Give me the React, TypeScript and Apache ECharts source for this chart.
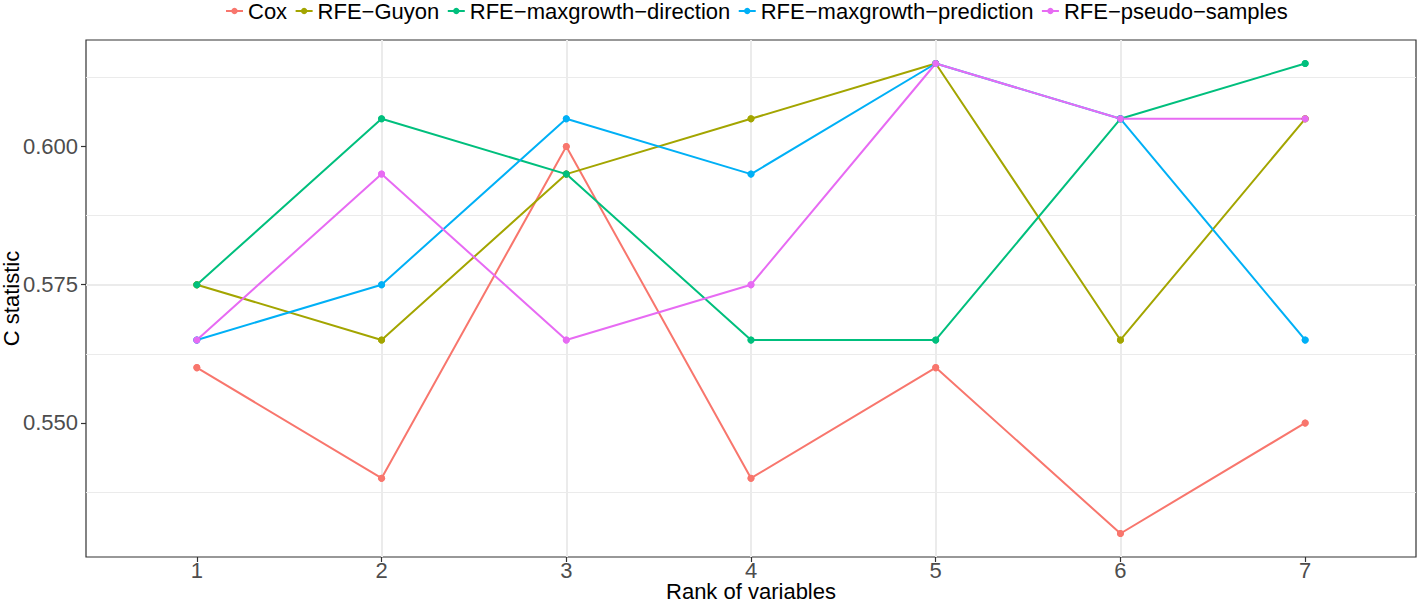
import React, { useEffect, useRef } from 'react';
import * as echarts from 'echarts';

const ranks = [1, 2, 3, 4, 5, 6, 7];
const seriesNames = [
  'Cox',
  'RFE−Guyon',
  'RFE−maxgrowth−direction',
  'RFE−maxgrowth−prediction',
  'RFE−pseudo−samples',
];
const colors = ['#F8766D', '#A3A500', '#00BF7D', '#00B0F6', '#E76BF3'];
const cox = [0.56, 0.54, 0.6, 0.54, 0.56, 0.53, 0.55];
const guyon = [0.575, 0.565, 0.595, 0.605, 0.615, 0.565, 0.605];
const maxDirection = [0.575, 0.605, 0.595, 0.565, 0.565, 0.605, 0.615];
const maxPrediction = [0.565, 0.575, 0.605, 0.595, 0.615, 0.605, 0.565];
const pseudoSamples = [0.565, 0.595, 0.565, 0.575, 0.615, 0.605, 0.605];
const yTicks = [0.55, 0.575, 0.6];
const xTicks = ranks;

const allValues = [cox, guyon, maxDirection, maxPrediction, pseudoSamples];
const FONT = '"Liberation Sans", Arial, Helvetica, sans-serif';

export default function App() {
  const ref = useRef<HTMLDivElement>(null);
  useEffect(() => {
    if (!ref.current) return;
    const chart = echarts.init(ref.current, undefined, { renderer: 'svg' });
    const lineSeries = allValues.map((vals, i) => ({
      name: seriesNames[i],
      type: 'line',
      data: vals.map((v, j) => [ranks[j], v]),
      symbol: 'circle',
      symbolSize: 7,
      showSymbol: true,
      lineStyle: { width: 2, color: colors[i] },
      itemStyle: { color: colors[i] },
      z: 2,
    }));
    const pointSeries = allValues.map((vals, i) => ({
      name: seriesNames[i] + ' points',
      type: 'scatter',
      data: vals.map((v, j) => [ranks[j], v]),
      symbol: 'circle',
      symbolSize: 7,
      itemStyle: { color: colors[i], opacity: 1 },
      z: 3,
    }));
    const data = [...lineSeries, ...pointSeries];
    chart.setOption({
      animation: false,
      backgroundColor: '#ffffff',
      textStyle: { fontFamily: FONT },
      color: colors,
      legend: {
        data: seriesNames,
        left: 225,
        top: 0,
        padding: 0,
        itemWidth: 17,
        itemHeight: 8,
        itemGap: 7.5,
        textStyle: { fontSize: 22, lineHeight: 18, color: '#000000', fontFamily: FONT },
      },
      grid: {
        left: 86,
        right: 2,
        top: 40,
        bottom: 46,
        show: true,
        borderColor: '#333333',
        borderWidth: 1.2,
        backgroundColor: '#ffffff',
        containLabel: false,
        outerBoundsMode: 'none',
      },
      xAxis: {
        type: 'value',
        min: 0.4,
        max: 7.6,
        minInterval: 1,
        maxInterval: 1,
        name: 'Rank of variables',
        nameLocation: 'middle',
        nameMoveOverlap: false,
        nameGap: 25,
        nameTextStyle: { fontSize: 22, lineHeight: 18, color: '#000000', fontFamily: FONT },
        axisLine: { show: false },
        axisTick: {
          show: true,
          customValues: xTicks,
          length: 5,
          lineStyle: { color: '#333333', width: 1.2 },
        },
        axisLabel: {
          customValues: xTicks,
          fontSize: 22,
          lineHeight: 18,
          color: '#4D4D4D',
          margin: 4,
          fontFamily: FONT,
        },
        splitLine: {
          show: true,
          showMinLine: false,
          showMaxLine: false,
          lineStyle: { color: '#EBEBEB', width: 2 },
        },
      },
      yAxis: {
        type: 'value',
        min: 0.52575,
        max: 0.61925,
        minInterval: 0.025,
        maxInterval: 0.025,
        name: 'C statistic',
        nameLocation: 'middle',
        nameMoveOverlap: false,
        nameGap: 66,
        nameTextStyle: { fontSize: 22, lineHeight: 18, color: '#000000', fontFamily: FONT },
        axisLine: { show: false },
        axisTick: {
          show: true,
          customValues: yTicks,
          length: 5,
          lineStyle: { color: '#333333', width: 1.2 },
        },
        axisLabel: {
          customValues: yTicks,
          fontSize: 22,
          color: '#4D4D4D',
          margin: 8,
          fontFamily: FONT,
          formatter: (v: number) => v.toFixed(3),
        },
        splitLine: {
          show: true,
          showMinLine: false,
          showMaxLine: false,
          lineStyle: { color: '#EBEBEB', width: 2 },
        },
        minorTick: { show: false, splitNumber: 2 },
        minorSplitLine: { show: true, lineStyle: { color: '#EBEBEB', width: 1 } },
      },
      series: data,
    });
    return () => chart.dispose();
  }, []);
  return (
    <div
      ref={ref}
      style={{ position: 'absolute', left: 0, top: 0, width: 1418, height: 603 }}
    />
  );
}
